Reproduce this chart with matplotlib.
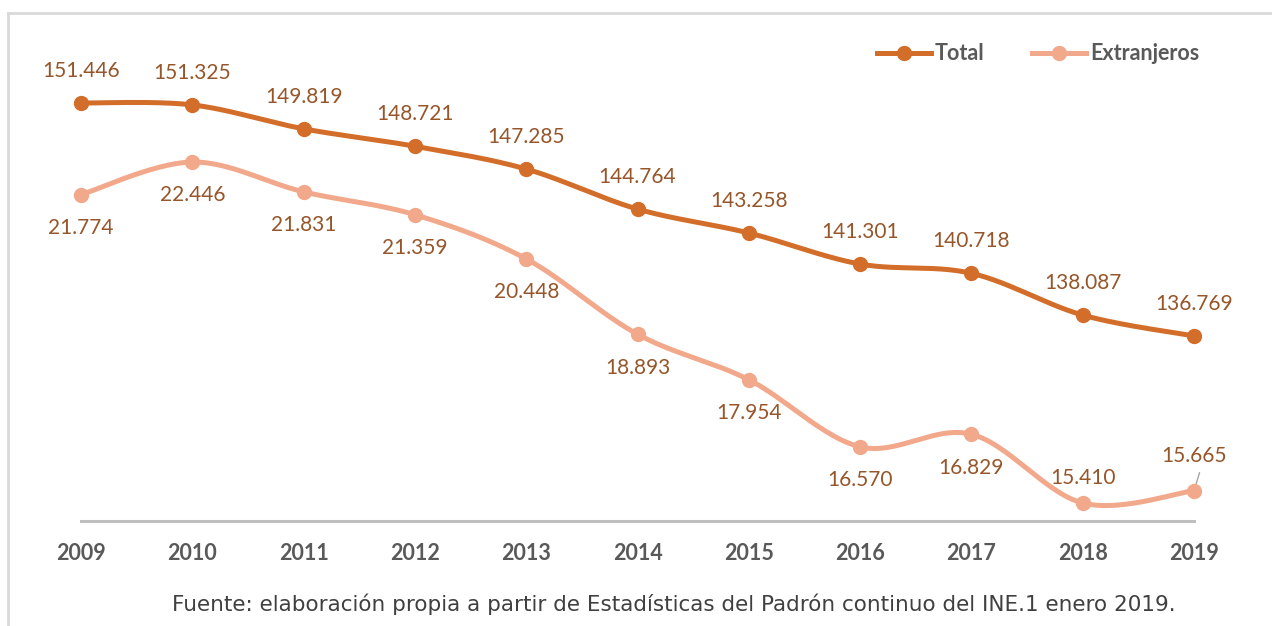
import numpy as np
import matplotlib
matplotlib.use('Agg')
import matplotlib.pyplot as plt
from matplotlib.lines import Line2D

years = ['2009', '2010', '2011', '2012', '2013', '2014', '2015', '2016', '2017', '2018', '2019']
total = [151446, 151325, 149819, 148721, 147285, 144764, 143258, 141301, 140718, 138087, 136769]
extranjeros = [21774, 22446, 21831, 21359, 20448, 18893, 17954, 16570, 16829, 15410, 15665]
# label above (+1) or below (-1) the point for Extranjeros
ext_side = [-1, -1, -1, -1, -1, -1, -1, -1, -1, 1, 1]

c_total = '#D36D2A'
c_ext = '#F2A88B'
c_lab = '#97552A'
c_tick = '#595959'


def fmt(v):
    return f'{v:,}'.replace(',', '.')


def smooth(y, n=30):
    # Bezier smoothing like the spreadsheet "smoothed line" option
    y = np.asarray(y, dtype=float)
    x = np.arange(len(y), dtype=float)
    xs, ys = [], []
    for i in range(len(y) - 1):
        p0 = np.array([x[max(i - 1, 0)], y[max(i - 1, 0)]])
        p1 = np.array([x[i], y[i]])
        p2 = np.array([x[i + 1], y[i + 1]])
        p3 = np.array([x[min(i + 2, len(y) - 1)], y[min(i + 2, len(y) - 1)]])
        c1 = p1 + (p2 - p0) / 6
        c2 = p2 - (p3 - p1) / 6
        t = np.linspace(0, 1, n)[:, None]
        pts = (1 - t) ** 3 * p1 + 3 * (1 - t) ** 2 * t * c1 + 3 * (1 - t) * t ** 2 * c2 + t ** 3 * p2
        xs.append(pts[:, 0])
        ys.append(pts[:, 1])
    return np.concatenate(xs), np.concatenate(ys)


plt.rcParams['font.family'] = ['Lato', 'DejaVu Sans']

fig = plt.figure(figsize=(12.72, 6.26), dpi=100)
W, H = 1272, 626

# light frame (left and top edges visible)
fig.add_artist(Line2D([8 / W, 8 / W], [0, 1 - 13 / H], color='#D9D9D9', lw=2, transform=fig.transFigure))
fig.add_artist(Line2D([8 / W, 1], [1 - 13 / H, 1 - 13 / H], color='#D9D9D9', lw=2, transform=fig.transFigure))

ax = fig.add_axes([81 / W, 105 / H, 1113 / W, 474 / H])
ax2 = ax.twinx()
x = np.arange(len(years))

ax.set_ylim(125115, 154973)
ax2.set_ylim(15039, 24820)
for a in (ax, ax2):
    a.set_xlim(0, len(years) - 1)
    for s in a.spines.values():
        s.set_visible(False)
    a.set_yticks([])
    a.patch.set_visible(False)

ax.spines['bottom'].set_visible(True)
ax.spines['bottom'].set_color('#BFBFBF')
ax.spines['bottom'].set_linewidth(2.2)
ax.set_xticks(x)
ax.set_xticklabels(years, fontsize=15.5, fontweight='bold', color=c_tick)
ax.tick_params(axis='x', length=0, pad=16)

sx, sy = smooth(total)
ax.plot(sx, sy, color=c_total, lw=3.6, solid_capstyle='round', clip_on=False, zorder=3)
ax.plot(x, total, 'o', color=c_total, ms=10, clip_on=False, zorder=4)

ex, ey = smooth(extranjeros)
ax2.plot(ex, ey, color=c_ext, lw=3.6, solid_capstyle='round', clip_on=False, zorder=3)
ax2.plot(x, extranjeros, 'o', color=c_ext, ms=10, clip_on=False, zorder=4)

for i, v in enumerate(total):
    ax.annotate(fmt(v), (x[i], v), xytext=(0, 23), textcoords='offset points',
                ha='center', va='center', fontsize=15, color=c_lab, annotation_clip=False)

for i, v in enumerate(extranjeros):
    off = 24 if ext_side[i] < 0 else -18
    if i == len(years) - 1:
        off = -25
    ax2.annotate(fmt(v), (x[i], v), xytext=(0, -off), textcoords='offset points',
                 ha='center', va='center', fontsize=15, color=c_lab, annotation_clip=False, zorder=5)

# leader line for the last label
ax2.annotate('', (x[-1], extranjeros[-1]), xytext=(4, 13), textcoords='offset points',
             arrowprops=dict(arrowstyle='-', color='#A6A6A6', lw=1, shrinkA=0, shrinkB=3))

h1 = Line2D([], [], color=c_total, lw=3.6, marker='o', ms=10)
h2 = Line2D([], [], color=c_ext, lw=3.6, marker='o', ms=10)
leg = fig.legend([h1, h2], ['Total', 'Extranjeros'], loc='center', bbox_to_anchor=(1038 / W, 1 - 54 / H),
                 ncol=2, frameon=False, handlelength=2.5, handletextpad=0.2, columnspacing=2.2,
                 prop={'weight': 'bold', 'size': 15.5})
for t in leg.get_texts():
    t.set_color(c_tick)

fig.text(674 / W, 1 - 604 / H,
         'Fuente: elaboración propia a partir de Estadísticas del Padrón continuo del INE.1 enero 2019.',
         ha='center', va='center', fontsize=15.5, color='#404040', family=['DejaVu Sans'])

fig.savefig('out.png', dpi=100, facecolor='white')
